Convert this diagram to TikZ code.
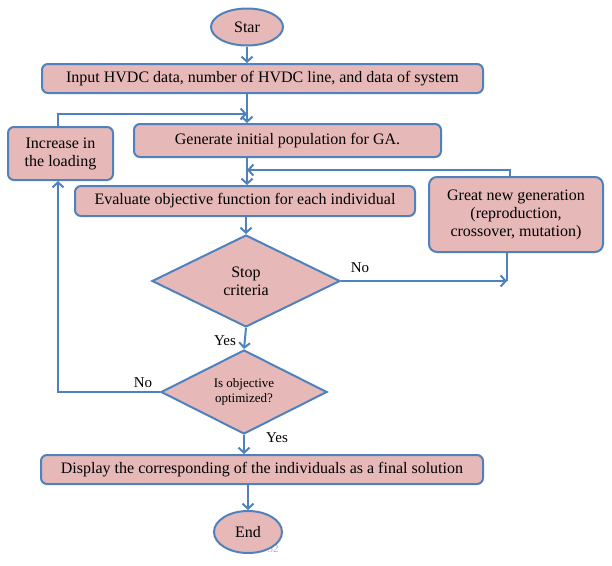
\documentclass[tikz,border=0pt]{standalone}
\usepackage{fontspec}
\setmainfont{Liberation Serif}
\usetikzlibrary{shapes.geometric,arrows.meta}
\definecolor{boxfill}{HTML}{E6B9B8}
\definecolor{boxline}{HTML}{4F81BD}
\begin{document}
\begin{tikzpicture}[x=1pt,y=-1pt,
  base/.style={draw=boxline,line width=2pt,fill=boxfill,inner sep=0pt,align=center},
  procbox/.style={base,rectangle,rounded corners=6pt,font=\fontsize{16}{18}\selectfont},
  termbox/.style={base,ellipse,font=\fontsize{16}{18}\selectfont},
  decbox/.style={base,diamond,aspect=2},
  arr/.style={draw=boxline,line width=2pt,-{Straight Barb[length=5pt,width=11pt,line width=2pt]}},
  ln/.style={draw=boxline,line width=2pt},
  lbl/.style={font=\fontsize{15}{17}\selectfont,inner sep=0pt}]
\useasboundingbox (0,0) rectangle (612,565);
\node[text=gray!60,font=\fontsize{11}{13}\selectfont] (pg) at (273,549) {52};
\node[termbox,minimum width=72pt,minimum height=37pt] (start) at (247,27) {Star};
\node[procbox,minimum width=441pt,minimum height=29pt] (input) at (262.5,78.5) {Input HVDC data, number of HVDC line, and data of system};
\node[procbox,minimum width=105pt,minimum height=53pt] (increase) at (60.5,153.5) {Increase in\\the loading};
\node[procbox,minimum width=307pt,minimum height=33pt] (generate) at (287.5,140.5) {Generate initial population for GA.};
\node[procbox,minimum width=340pt,minimum height=30pt] (evaluate) at (245,201) {Evaluate objective function for each individual};
\node[procbox,minimum width=174pt,minimum height=75pt,rounded corners=8pt] (great) at (516,214.5) {Great new generation\\(reproduction,\\crossover, mutation)};
\node[decbox,minimum width=188pt,minimum height=92pt,font=\fontsize{16}{18}\selectfont] (d1) at (246,281) {Stop\\criteria};
\node[decbox,minimum width=166pt,minimum height=84pt,font=\fontsize{13}{15}\selectfont] (d2) at (244,392) {Is objective\\optimized?};
\node[procbox,minimum width=442pt,minimum height=29pt] (display) at (262,469.5) {Display the corresponding of the individuals as a final solution};
\node[termbox,minimum width=68pt,minimum height=42pt] (end) at (248,532) {End};
\coordinate (j1) at (247,114);
\coordinate (j2) at (247,170);
\coordinate (c1) at (507,281);
\draw[arr] (start.south) -- (start.south |- input.north);
\draw[arr] (input.south -| start.south) -- (generate.north -| start.south);
\draw[arr] (increase.north -| 58,0) |- (j1);
\draw[arr] (generate.south -| start.south) -- (evaluate.north -| start.south);
\draw[arr] (great.north -| 510,0) |- (j2);
\draw[arr] (evaluate.south -| d1.north) -- (d1.north);
\draw[arr] (d1.east) -- (c1);
\draw[ln] (great.south -| c1) -- (c1);
\draw[arr] (d1.south) -- (d2.north);
\draw[arr] (d2.west) -| (increase.south -| 58,0);
\draw[arr] (d2.south) -- (display.north -| d2.south);
\draw[arr] (display.south -| end.north) -- (end.north);
\node[lbl] (no1) at (360,268) {No};
\node[lbl] (yes1) at (225,341) {Yes};
\node[lbl] (no2) at (143,383) {No};
\node[lbl] (yes2) at (277,438) {Yes};
\end{tikzpicture}
\end{document}
